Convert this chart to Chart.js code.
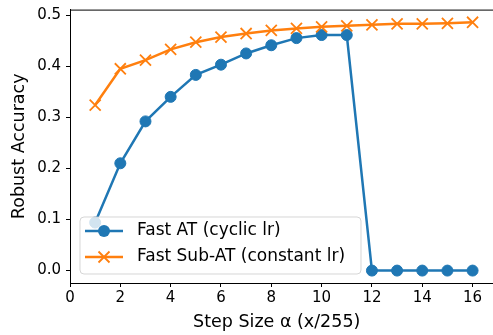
<!DOCTYPE html>
<html>
<head>
<meta charset="utf-8">
<script src="https://cdn.jsdelivr.net/npm/chart.js@4/dist/chart.umd.min.js"></script>
<style>
  html, body { margin: 0; padding: 0; background: #fff; }
  #wrap { width: 493px; height: 335px; }
</style>
</head>
<body>
<div id="wrap"><canvas id="chart" width="493" height="335"></canvas></div>
<script>
// step size alpha (x/255)
const steps = [1, 2, 3, 4, 5, 6, 7, 8, 9, 10, 11, 12, 13, 14, 15, 16];
const fastAT = [0.094, 0.210, 0.292, 0.340, 0.383, 0.403, 0.425, 0.441, 0.455, 0.461, 0.461, 0, 0, 0, 0, 0];
const fastSubAT = [0.324, 0.395, 0.412, 0.433, 0.447, 0.457, 0.464, 0.470, 0.474, 0.477, 0.479, 0.481, 0.483, 0.483, 0.484, 0.486];
const seriesNames = ["Fast AT (cyclic lr)", "Fast Sub-AT (constant lr)"];

const FONT = "'DejaVu Sans', sans-serif";
const BLUE = "#1f77b4";
const ORANGE = "#ff7f0e";

const toPoints = (ys) => steps.map((x, i) => ({ x: x, y: ys[i] }));

// matplotlib style: spines running to the canvas edge + legend box inside the axes
const mplPlugin = {
  id: "mpl",
  afterDraw(chart) {
    const ctx = chart.ctx;
    const a = chart.chartArea;
    ctx.save();
    ctx.strokeStyle = "#000";
    ctx.lineWidth = 1;
    ctx.beginPath();
    ctx.moveTo(a.left, a.top + 0.5);
    ctx.lineTo(chart.width, a.top + 0.5);
    ctx.moveTo(a.right - 1, a.bottom + 0.5);
    ctx.lineTo(chart.width, a.bottom + 0.5);
    ctx.stroke();

    // legend
    const bx = a.left + 10, bw = 281, bh = 57;
    const by = a.bottom - 9 - bh;
    const r = 4;
    ctx.beginPath();
    ctx.moveTo(bx + r, by);
    ctx.arcTo(bx + bw, by, bx + bw, by + bh, r);
    ctx.arcTo(bx + bw, by + bh, bx, by + bh, r);
    ctx.arcTo(bx, by + bh, bx, by, r);
    ctx.arcTo(bx, by, bx + bw, by, r);
    ctx.closePath();
    ctx.fillStyle = "rgba(255,255,255,0.8)";
    ctx.fill();
    ctx.strokeStyle = "rgba(204,204,204,0.8)";
    ctx.stroke();

    chart.data.datasets.forEach((ds, i) => {
      const cy = by + 14 + i * 26;
      const x0 = bx + 5, x1 = bx + 43, xm = (x0 + x1) / 2;
      ctx.strokeStyle = ds.borderColor;
      ctx.lineWidth = 2.5;
      ctx.beginPath();
      ctx.moveTo(x0, cy);
      ctx.lineTo(x1, cy);
      ctx.stroke();
      if (ds.pointStyle === "crossRot") {
        ctx.lineWidth = 1.8;
        ctx.beginPath();
        ctx.moveTo(xm - 5.5, cy - 5.5); ctx.lineTo(xm + 5.5, cy + 5.5);
        ctx.moveTo(xm - 5.5, cy + 5.5); ctx.lineTo(xm + 5.5, cy - 5.5);
        ctx.stroke();
      } else {
        ctx.fillStyle = ds.backgroundColor;
        ctx.beginPath();
        ctx.arc(xm, cy, 6, 0, Math.PI * 2);
        ctx.fill();
      }
      ctx.fillStyle = "#000";
      ctx.font = "17px " + FONT;
      ctx.textBaseline = "middle";
      ctx.textAlign = "left";
      ctx.fillText(ds.label, bx + 57, cy);
    });
    ctx.restore();
  }
};

new Chart(document.getElementById("chart"), {
  type: "line",
  data: {
    datasets: [
      {
        label: seriesNames[0],
        data: toPoints(fastAT),
        borderColor: BLUE,
        backgroundColor: BLUE,
        borderWidth: 2.5,
        pointStyle: "circle",
        pointRadius: 5.5,
        pointBorderWidth: 1,
        order: 1,
        clip: false
      },
      {
        label: seriesNames[1],
        data: toPoints(fastSubAT),
        borderColor: ORANGE,
        backgroundColor: ORANGE,
        borderWidth: 2.5,
        pointStyle: "crossRot",
        pointRadius: 7.8,
        pointBorderWidth: 1.8,
        order: 0,
        clip: false
      }
    ]
  },
  options: {
    responsive: false,
    animation: false,
    layout: { padding: { top: 6, right: 0, left: 0, bottom: 0 } },
    plugins: { legend: { display: false }, tooltip: { enabled: false } },
    scales: {
      x: {
        type: "linear",
        min: 0,
        max: 16.43,
        afterFit: (s) => { s.height = 52; s.paddingLeft = 0; s.paddingRight = 0; },
        border: { color: "#000", width: 1 },
        grid: { drawOnChartArea: false, tickLength: 4, tickColor: "#000" },
        ticks: {
          stepSize: 2,
          includeBounds: false,
          maxRotation: 0,
          color: "#000",
          padding: 2,
          font: { family: FONT, size: 15 }
        },
        title: {
          display: true,
          text: "Step Size α (x/255)",
          color: "#000",
          font: { family: FONT, size: 17.5 },
          padding: { top: 0, bottom: 2 }
        }
      },
      y: {
        min: -0.0243,
        max: 0.5108,
        afterFit: (s) => { s.width = 70; s.paddingTop = 0; s.paddingBottom = 0; },
        border: { color: "#000", width: 1 },
        grid: { drawOnChartArea: false, tickLength: 4, tickColor: "#000" },
        ticks: {
          stepSize: 0.1,
          includeBounds: false,
          color: "#000",
          padding: 5,
          font: { family: FONT, size: 15 },
          callback: (v) => v.toFixed(1)
        },
        title: {
          display: true,
          text: "Robust Accuracy",
          color: "#000",
          font: { family: FONT, size: 17.5 },
          padding: { top: 9, bottom: 0 }
        }
      }
    }
  },
  plugins: [mplPlugin]
});
</script>
</body>
</html>
